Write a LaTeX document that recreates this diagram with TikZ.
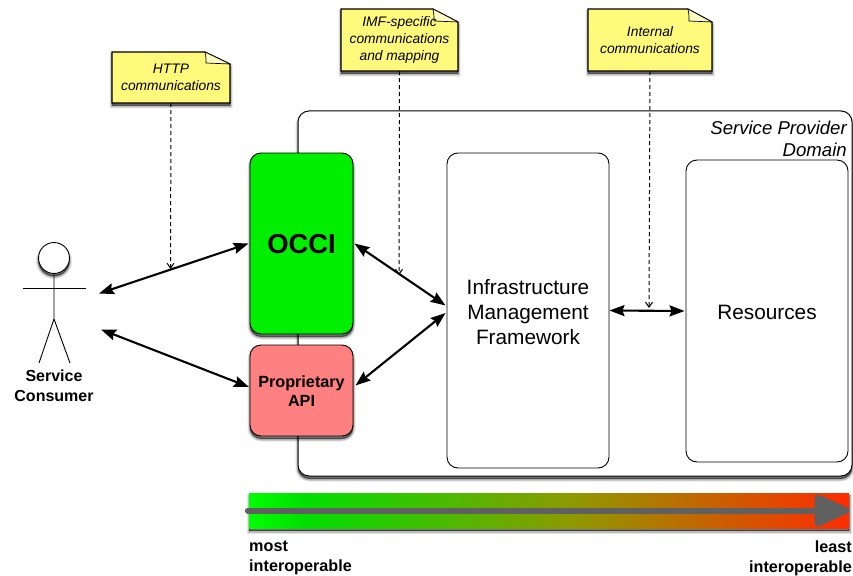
\documentclass[tikz,border=0pt]{standalone}
\usepackage{fontspec}
\setmainfont{Liberation Sans}
\usetikzlibrary{arrows.meta,positioning}
\definecolor{notey}{HTML}{FFF97C}
\definecolor{foldy}{HTML}{FFFCC4}
\definecolor{occig}{HTML}{00EF00}
\definecolor{propr}{HTML}{FF8080}
\definecolor{bargray}{HTML}{606060}
\pgfdeclarehorizontalshading{barshade}{100bp}{
  rgb(0bp)=(0,1,0);
  rgb(25bp)=(0,1,0);
  rgb(29.5bp)=(0,.88,0);
  rgb(52bp)=(.56,.6,0);
  rgb(75bp)=(1,.17,0);
  rgb(100bp)=(1,.17,0)}
\newcommand{\fs}[2]{\fontsize{#1}{#2}\selectfont}
\tikzset{
  softshadow/.style={
    preaction={draw=black,fill=black,opacity=.1,line width=5pt,transform canvas={yshift=-3pt}},
    preaction={draw=black,fill=black,opacity=.18,line width=3pt,transform canvas={yshift=-3pt}},
    preaction={draw=black,fill=black,opacity=.32,line width=1pt,transform canvas={yshift=-2.5pt}}},
  panel/.style={draw=black,line width=1pt,rounded corners=11pt,fill=white,softshadow,inner sep=0pt},
  boxnode/.style={draw=black,line width=.9pt,rounded corners=11pt,fill=white,inner sep=0pt,align=center},
  notepath/.style={draw=black,line width=1.1pt,fill=notey,softshadow},
  foldpath/.style={draw=black,line width=.7pt,fill=foldy},
  notetext/.style={inner sep=0pt,align=center,font=\fs{13.8}{17}\itshape},
  plain/.style={inner sep=0pt,align=center},
  bothway/.style={line width=2.1pt,{Stealth[length=15pt,width=11pt,inset=2pt]}-{Stealth[length=15pt,width=11pt,inset=2pt]}},
  noteline/.style={line width=1pt,dash pattern=on 4pt off 3pt,-{Straight Barb[length=5pt,width=7pt]}},
  stick/.style={line width=.9pt,draw=black},
  bigtext/.style={font=\fs{20.8}{25},align=center,inner sep=0pt,yshift=-1.8pt}
}
\newcommand{\notebody}[6]{%
  \path[notepath] (#1,#2) -- (#5,#2) -- (#3,#6) -- (#3,#4) -- (#1,#4) -- cycle;
  \path[foldpath] (#5,#2) .. controls (#5+1,#2+4) and (#5+1,#6-4) .. (#5+1,#6-1) -- (#3,#6) -- cycle;}
\begin{document}
\begin{tikzpicture}[x=1pt,y=-1pt]
\useasboundingbox (0,0) rectangle (853,575);
% domain
\node[panel,minimum width=554pt,minimum height=365pt] (domain) at (575,293.5) {};
\node[plain,anchor=north east,align=right,font=\fs{18.6}{22}\itshape] (domlabel) at (847,120.5) {Service Provider\\Domain};
% API boxes
\node[boxnode,fill=occig,softshadow,minimum width=103pt,minimum height=181pt,label={[plain,font=\fs{27.4}{32}\bfseries,yshift=-1pt]center:OCCI}] (occi) at (301.5,243.5) {};
\node[boxnode,fill=propr,softshadow,minimum width=103pt,minimum height=91pt,label={[plain,font=\fs{16.2}{19}\bfseries,yshift=-1pt]center:Proprietary\\API}] (prop) at (301.5,390.5) {};
\node[boxnode,minimum width=162pt,minimum height=315pt,label={[bigtext]center:Infrastructure\\Management\\Framework}] (imf) at (528,310.5) {};
\node[boxnode,minimum width=162pt,minimum height=302pt,label={[bigtext,yshift=.5pt]center:Resources}] (res) at (767,311) {};
% actor
\node[circle,draw=black,line width=.9pt,fill=white,minimum size=31pt,inner sep=0pt,softshadow] (head) at (54,258) {};
\coordinate (neck) at (54,288);
\coordinate (hip) at (54,319);
\coordinate (handl) at (23,288);
\coordinate (handr) at (86,288);
\coordinate (footl) at (39,363);
\coordinate (footr) at (70,363);
\draw[stick] (head.south) -- (hip) -- (footl);
\draw[stick] (hip) -- (footr);
\draw[stick] (handl) -- (handr);
\node[plain,font=\fs{16}{19.5}\bfseries] (actor) at (54,386) {Service\\Consumer};
% notes
\notebody{112}{52}{230}{103}{205}{64}
\node[notetext,minimum width=118pt,minimum height=51pt] (n1) at (171,77.5) {HTTP\\communications};
\notebody{341}{9}{458}{71}{433}{22}
\node[notetext,minimum width=117pt,minimum height=62pt] (n2) at (399.5,40) {IMF-specific\\communications\\and mapping};
\notebody{588}{9}{712}{71}{688}{22}
\node[notetext,font=\fs{13.8}{16.5}\itshape,minimum width=124pt,minimum height=62pt] (n3) at (650,40) {Internal\\communications};
% arrow end points
\coordinate (a1) at (99,293.5);
\coordinate (a2) at (101,329.5);
\coordinate (t1) at (170.5,269);
\coordinate (t2) at (399,275);
\coordinate (t3) at (649,308);
\coordinate (p4) at (249,387);
% connectors
\draw[bothway] (a1) -- ([xshift=-1pt]occi.west);
\draw[bothway] (a2) -- (p4);
\draw[bothway] ([xshift=1pt]occi.east) -- ([xshift=-1pt,yshift=5pt]imf.west);
\draw[bothway] ([xshift=2pt,yshift=5pt]prop.east) -- ([xshift=-1pt,yshift=-2.5pt]imf.west);
\draw[bothway] ([xshift=0pt]imf.east) -- ([xshift=-1pt]res.west);
\draw[noteline] (n1.south) -- (t1);
\draw[noteline] (n2.south) -- (t2);
\draw[noteline] (n3.south) -- (t3);
% scale bar
\path[softshadow] (249,493) rectangle (849,528);
\node[shading=barshade,minimum width=600pt,minimum height=35pt,inner sep=0pt] (bar) at (549,510.5) {};
\draw[bargray,line width=6pt,line cap=round,-{Triangle[length=39pt,width=34pt,round=false]}] ([xshift=-1pt]bar.west) -- ([xshift=0pt]bar.east);
\node[plain,anchor=north west,align=left,font=\fs{16.2}{19.5}\bfseries] (most) at (249,541) {most\\interoperable};
\node[plain,anchor=north east,align=right,font=\fs{16.2}{19.5}\bfseries] (least) at (852,541) {least\\interoperable};
\end{tikzpicture}
\end{document}
